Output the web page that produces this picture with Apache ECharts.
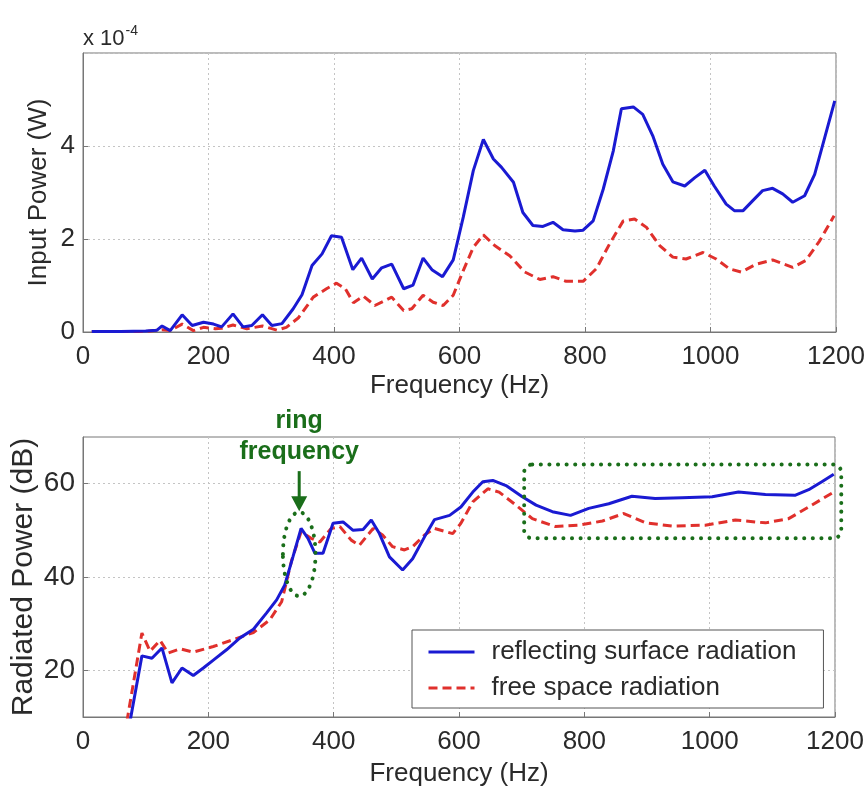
<!DOCTYPE html>
<html><head><meta charset="utf-8">
<script src="https://cdn.jsdelivr.net/npm/echarts@6/dist/echarts.min.js"></script>
<style>html,body{margin:0;padding:0;background:#fff}#c{width:868px;height:792px}</style>
</head><body><div id="c"></div>
<script>
// ---------- DATA ----------
const xTicks = [0, 200, 400, 600, 800, 1000, 1200];
const inputTicks = [0, 2, 4];          // x 10^-4 W
const radTicks = [20, 40, 60];         // dB

// Top: input power (x 1e-4 W)
const inFreqR = [14,60,100,118,126,139,158,174,192,208,221,239,255,269,286,301,317,335,349,365,381,396,412,430,444,461,476,492,511,526,542,556,573,590,606,622,638,654,667,686,701,717,733,749,765,784,797,813,829,845,858,877,892,908,924,940,959,975,991,1006,1025,1038,1052,1067,1083,1099,1115,1131,1150,1166,1182,1198];
const inPowR  = [0.01,0.01,0.02,0.04,0.13,0.03,0.37,0.14,0.21,0.17,0.11,0.39,0.11,0.14,0.37,0.14,0.18,0.5,0.8,1.43,1.68,2.07,2.04,1.34,1.59,1.14,1.38,1.46,0.93,1.01,1.59,1.34,1.19,1.55,2.47,3.47,4.14,3.72,3.54,3.22,2.57,2.29,2.27,2.36,2.2,2.17,2.19,2.39,3.07,3.89,4.8,4.84,4.68,4.22,3.61,3.23,3.14,3.32,3.48,3.14,2.75,2.61,2.61,2.82,3.04,3.09,2.97,2.79,2.93,3.39,4.18,4.97];
const inFreqF = [14,60,100,126,139,158,176,192,211,221,239,261,286,309,324,343,367,388,404,418,431,447,465,492,511,524,542,558,574,590,606,622,638,656,680,704,728,749,770,797,818,839,861,879,898,919,940,961,988,1009,1030,1049,1073,1099,1131,1152,1174,1197];
const inPowF  = [0.01,0.01,0.01,0.05,0.03,0.17,0.03,0.1,0.07,0.08,0.15,0.07,0.13,0.04,0.1,0.3,0.75,0.93,1.05,0.93,0.63,0.77,0.57,0.75,0.46,0.5,0.79,0.64,0.57,0.79,1.32,1.82,2.09,1.86,1.64,1.29,1.13,1.19,1.09,1.09,1.36,1.89,2.39,2.43,2.25,1.86,1.61,1.57,1.71,1.57,1.36,1.29,1.46,1.55,1.39,1.54,1.96,2.5];

// Bottom: radiated power (dB)
const radFreqR = [75,94,110,126,142,158,176,192,208,229,250,272,293,309,322,335,348,359,370,383,399,415,431,447,460,473,489,510,526,545,561,585,603,622,638,654,675,701,723,749,778,807,839,876,913,956,1004,1046,1089,1136,1158,1179,1198];
const radDbR   = [9,23.1,22.6,24.8,17.3,20.5,18.9,20.5,22.2,24.4,26.9,28.8,32.3,35.1,38.3,44.3,50.4,48.3,45.1,45.1,51.5,51.8,50.0,50.2,52.2,49.3,44.3,41.5,43.9,48.6,52.3,53.2,55.0,58.2,60.4,60.7,59.6,57.2,55.4,54.0,53.2,54.7,55.7,57.3,56.8,57.0,57.2,58.2,57.7,57.5,58.7,60.4,62];
const radFreqF = [70,94,107,123,136,155,176,208,240,272,298,317,333,348,364,378,396,410,428,441,463,478,494,513,526,545,561,590,603,622,646,664,691,717,754,791,829,863,898,940,993,1041,1089,1126,1158,1198];
const radDbF   = [9,28.0,24.1,26.4,23.7,24.6,23.9,25.1,26.6,28.1,30.8,34.7,43.6,49.7,48.3,47.5,50.4,50.8,47.9,46.8,50.4,49.0,46.5,45.8,46.5,49.0,50.4,49.3,51.5,56.1,58.9,58.2,55.4,52.5,50.8,51.1,52.0,53.6,51.6,50.9,51.1,52.2,51.6,52.5,55.0,58.2];

const seriesNames = ['reflecting surface radiation', 'free space radiation'];

// Annotations (data units of the bottom plot)
const ringFreq = 345, ringCenterDb = 44.9, ringRxHz = 26, ringRyDb = 9;
const boxFreq = [704, 1210], boxDb = [48.3, 64.1];

// ---------- CHART ----------
const zip = (a, b) => a.map((v, i) => [v, b[i]]);
const FONT = '"Liberation Sans", Arial, sans-serif';
const TXT = '#2a2a2a';
const BLUE = '#1a1ad2', RED = '#e0302c', GREEN = '#1a6e1a';
const plain = v => String(v);

function xAxis(gi, gap) {
  return {
    type: 'value', gridIndex: gi, min: 0, max: 1200, interval: 200,
    name: 'Frequency (Hz)', nameLocation: 'middle', nameGap: gap, nameMoveOverlap: false,
    nameTextStyle: { fontFamily: FONT, fontSize: 26, color: TXT },
    axisLine: { show: true, lineStyle: { color: '#777', width: 1 } },
    axisTick: { show: true, inside: true, length: 5, customValues: xTicks, lineStyle: { color: '#777' } },
    axisLabel: { margin: 12, fontFamily: FONT, fontSize: 26, color: TXT, formatter: plain, customValues: xTicks },
    splitLine: { show: true, lineStyle: { color: '#c4c4c4', type: [2, 3], width: 1 } }
  };
}

const option = {
  backgroundColor: '#fff',
  animation: false,
  grid: [
    { left: 83, right: 32, top: 53, height: 279, show: true, borderColor: '#777', borderWidth: 1,
      containLabel: false, outerBoundsMode: 'none' },
    { left: 83, right: 33, top: 437, height: 280, show: true, borderColor: '#777', borderWidth: 1,
      containLabel: false, outerBoundsMode: 'none' }
  ],
  xAxis: [xAxis(0, 41), xAxis(1, 44)],
  yAxis: [
    {
      type: 'value', gridIndex: 0, min: 0, max: 6, interval: 2,
      name: 'Input Power (W)', nameLocation: 'middle', nameGap: 31, nameMoveOverlap: false,
      nameTextStyle: { fontFamily: FONT, fontSize: 26, color: TXT },
      axisLine: { show: true, lineStyle: { color: '#777' } },
      axisTick: { show: true, inside: true, length: 5, lineStyle: { color: '#777' } },
      axisLabel: { margin: 8, fontFamily: FONT, fontSize: 26, color: TXT, showMaxLabel: false, formatter: plain },
      splitLine: { show: true, lineStyle: { color: '#c4c4c4', type: [2, 3], width: 1 } }
    },
    {
      type: 'value', gridIndex: 1, min: 10, max: 70,
      name: 'Radiated Power (dB)', nameLocation: 'middle', nameGap: 44, nameMoveOverlap: false,
      nameTextStyle: { fontFamily: FONT, fontSize: 30, color: TXT },
      axisLine: { show: true, lineStyle: { color: '#777' } },
      axisTick: { show: true, inside: true, length: 5, customValues: radTicks, lineStyle: { color: '#777' } },
      axisLabel: { margin: 8, fontFamily: FONT, fontSize: 28, color: TXT, customValues: radTicks, formatter: plain },
      splitLine: { show: true, lineStyle: { color: '#c4c4c4', type: [2, 3], width: 1 } }
    }
  ],
  legend: {
    data: seriesNames,
    orient: 'vertical', left: 412, top: 630,
    padding: [7, 27, 5, 15],
    backgroundColor: '#fff', borderColor: '#555', borderWidth: 1, borderRadius: 0,
    itemWidth: 46, itemHeight: 14, itemGap: 6,
    itemStyle: { color: 'rgba(0,0,0,0)', borderColor: 'rgba(0,0,0,0)', borderWidth: 0, opacity: 0 },
    lineStyle: { width: 3 },
    textStyle: { fontFamily: FONT, fontSize: 26, color: TXT, lineHeight: 30, padding: [0, 0, 0, 12] }
  },
  series: [
    { name: 'input reflecting', type: 'line', xAxisIndex: 0, yAxisIndex: 0, data: zip(inFreqR, inPowR),
      symbol: 'none', lineStyle: { color: BLUE, width: 3 }, itemStyle: { color: BLUE }, z: 3 },
    { name: 'input free', type: 'line', xAxisIndex: 0, yAxisIndex: 0, data: zip(inFreqF, inPowF),
      symbol: 'none', lineStyle: { color: RED, width: 3, type: [9, 5] }, itemStyle: { color: RED }, z: 2 },
    { name: seriesNames[0], type: 'line', xAxisIndex: 1, yAxisIndex: 1, data: zip(radFreqR, radDbR),
      symbol: 'none', lineStyle: { color: BLUE, width: 3 }, itemStyle: { color: BLUE }, z: 3 },
    { name: seriesNames[1], type: 'line', xAxisIndex: 1, yAxisIndex: 1, data: zip(radFreqF, radDbF),
      symbol: 'none', lineStyle: { color: RED, width: 3, type: [9, 5] }, itemStyle: { color: RED }, z: 2 }
  ]
};

const chart = echarts.init(document.getElementById('c'), null, { renderer: 'canvas' });
chart.setOption(option);

const px = (x, y) => chart.convertToPixel({ gridIndex: 1 }, [x, y]);
const c = px(ringFreq, ringCenterDb);
const e1 = px(ringFreq + ringRxHz, ringCenterDb - ringRyDb);
const rx = e1[0] - c[0], ry = e1[1] - c[1];
const b0 = px(boxFreq[0], boxDb[1]), b1 = px(boxFreq[1], boxDb[0]);
const dotted = { stroke: GREEN, fill: null, lineWidth: 4, lineDash: [0.1, 8.5], lineCap: 'round' };
const arrowTip = c[1] - ry - 1;

chart.setOption({
  graphic: [
    { type: 'text', left: 83, top: 24, z: 100,
      style: { text: '{a|x 10}{b|-4}', rich: {
        a: { fontFamily: FONT, fontSize: 22, fill: TXT, verticalAlign: 'bottom' },
        b: { fontFamily: FONT, fontSize: 14, fill: TXT, padding: [0, 0, 12, 1], verticalAlign: 'bottom' } } } },
    { type: 'ellipse', shape: { cx: c[0], cy: c[1], rx: rx, ry: ry }, style: dotted, z: 100, silent: true },
    { type: 'rect', shape: { x: b0[0], y: b0[1], width: b1[0] - b0[0], height: b1[1] - b0[1], r: 8 }, style: dotted, z: 100, silent: true },
    { type: 'line', shape: { x1: c[0], y1: arrowTip - 40, x2: c[0], y2: arrowTip - 12 }, style: { stroke: GREEN, lineWidth: 3 }, z: 100 },
    { type: 'polygon', shape: { points: [[c[0] - 8, arrowTip - 15], [c[0] + 8, arrowTip - 15], [c[0], arrowTip]] }, style: { fill: GREEN }, z: 100 },
    { type: 'text', x: c[0], y: arrowTip - 106, z: 100,
      style: { text: 'ring\nfrequency', align: 'center', verticalAlign: 'top', fontFamily: FONT, fontSize: 25, fontWeight: 'bold', lineHeight: 31, fill: GREEN } }
  ]
});
</script>
</body></html>
